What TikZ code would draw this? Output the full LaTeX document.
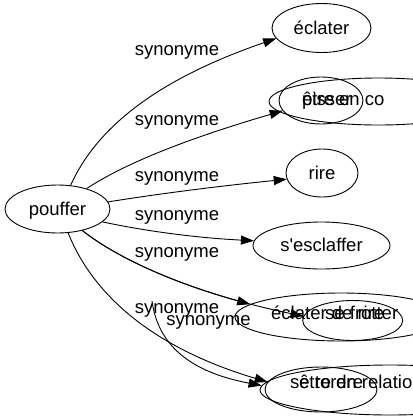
\documentclass[tikz,border=0pt]{standalone}
\usepackage{fontspec}
\setmainfont{Liberation Sans}
\usetikzlibrary{shapes.geometric,arrows.meta}
\newcommand\fsz{\fontsize{18.5bp}{22bp}\selectfont}
\begin{document}
\begin{tikzpicture}[x=1bp,y=-1bp,
  gnode/.style n args={2}{draw, ellipse, line width=0.9bp, inner sep=0pt,
    minimum width=#1bp, minimum height=#2bp, font=\fsz,
    text height=16bp, text depth=4bp},
  txt/.style={inner sep=0pt, anchor=base west, font=\fsz},
  lbl/.style={inner sep=0pt, font=\fsz},
  syn/.style={draw, line width=0.9bp, -{Triangle[length=13bp,width=9bp]}}]
\useasboundingbox (0,0) rectangle (413,419);
% nodes
\node[gnode={105}{48}] (pou) at (57.5,209) {pouffer};
\node[gnode={99}{49}] (ecl) at (321.5,28) {éclater};
\node[gnode={84}{47}] (pis) at (321,100.5) {};
\node[gnode={219}{47}] (eec) at (378.5,101.5) {};
\node[gnode={72}{48}] (rir) at (322,173) {rire};
\node[gnode={137}{47}] (esc) at (321.5,245.5) {s\textquotesingle esclaffer};
\node[gnode={212}{48}] (ecr) at (341,317) {};
\node[gnode={100}{40}] (sfr) at (352.7,320.5) {};
\node[gnode={112}{45}] (sto) at (321,389.5) {};
\node[gnode={260}{50}] (eer) at (390,390) {};
% node texts
\node[txt] (tpis) at (302,105.5) {pisser};
\node[txt] (teec) at (302,105.5) {être en co};
\node[txt] (tecr) at (271,319.5) {éclater de rire};
\node[txt] (tsfr) at (325,319.5) {se frotter};
\node[txt] (tsto) at (290,388.5) {se tordre};
\node[txt] (teer) at (299,388.5) {être en relation};
% edge labels
\node[lbl] (l1) at (177,52) {synonyme};
\node[lbl] (l2) at (177,122.5) {synonyme};
\node[lbl] (l3) at (177,178) {synonyme};
\node[lbl] (l4) at (177,217.5) {synonyme};
\node[lbl] (l5) at (177,254) {synonyme};
\node[lbl] (l6) at (177,310.5) {synonyme};
\node[lbl] (l7) at (208.5,322.5) {synonyme};
\coordinate (s8) at (152,301);
% edges
\draw[syn] (pou.61) .. controls (100,120) and (170,75) .. (ecl.193);
\draw[syn] (pou.35) .. controls (130,160) and (200,135) .. (pis.195);
\draw[syn] (pou.8) .. controls (170,192) and (230,185) .. (rir.190);
\draw[syn] (pou.344) .. controls (150,232) and (200,238) .. (esc.176);
\draw[syn] (pou.319) .. controls (129.5,267.5) and (211.4,297.2) .. (sfr.175);
\draw[syn] (pou.319) .. controls (120,260) and (180,285) .. (ecr.172);
\draw[syn] (pou.294) .. controls (95,300) and (160,350) .. (sto.172);
\draw[syn] (s8) .. controls (158,345) and (190,372) .. (eer.178);
\end{tikzpicture}
\end{document}
